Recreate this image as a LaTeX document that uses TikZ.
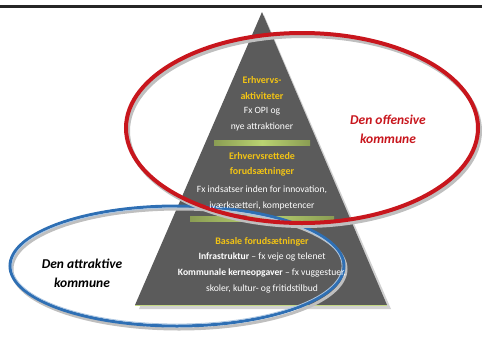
\documentclass[tikz,border=0pt]{standalone}
\usepackage{fontspec}
\setmainfont{Carlito}
\definecolor{pyr}{HTML}{5B5B5B}
\definecolor{gold}{HTML}{F2C314}
\definecolor{offred}{HTML}{C8161D}
\definecolor{attblue}{HTML}{2E6FB4}
\definecolor{barg}{HTML}{A9C84E}
\tikzset{
  head/.style={text=gold,font=\fontsize{10}{15.5}\selectfont\bfseries,align=center,inner sep=0pt},
  body/.style={text=white,font=\fontsize{9.6}{16}\selectfont,align=center,inner sep=0pt},
  lbl/.style={font=\fontsize{13.5}{19}\selectfont\bfseries\itshape,align=center,inner sep=0pt},
}
\begin{document}
\begin{tikzpicture}[x=1pt,y=-1pt]
\useasboundingbox (0,0) rectangle (482,338);
% top rule
\fill[black!85] (0,5) rectangle (482,7.5);
% pyramid shadow
\fill[black!18] (264,15) -- (391,309) -- (139,309) -- cycle;
% pyramid
\fill[pyr] (262,12) coordinate (apex) -- (387,305) coordinate (br) -- (135,305) coordinate (bl) -- cycle;
\draw[barg!70!white,line width=0.8pt] (bl) -- (br);
% green bars
\shade[left color=barg!60!pyr,right color=barg!60!pyr,middle color=barg!80!white] (214,140) rectangle (310,145);
\shade[left color=barg!60!pyr,right color=barg!60!pyr,middle color=barg!80!white] (190,216) rectangle (334,221);
% blue ellipse
\draw[black!25,line width=3pt] (179,269) ellipse [x radius=167, y radius=60];
\draw[attblue,line width=3pt] (177,266) ellipse [x radius=167, y radius=60];
\draw[attblue!40!white,line width=0.8pt] (177,266) ellipse [x radius=165, y radius=58];
% red ellipse
\draw[black!25,line width=4pt] (304,131) ellipse [x radius=176, y radius=95];
\draw[offred,line width=4pt] (302,128) ellipse [x radius=176, y radius=95];
% texts
\node[head] (t1) at (262,88) {Erhvervs-\\aktiviteter};
\node[body] (b1) at (262,119) {Fx OPI og\\nye attraktioner};
\node[head] (t2) at (262,164.5) {Erhvervsrettede\\forudsætninger};
\node[body] (b2) at (262,197.5) {Fx indsatser inden for innovation,\\iværksætteri, kompetencer};
\node[head] (t3) at (262,242) {Basale forudsætninger};
\node[body] (b3) at (262,273) {\textbf{Infrastruktur} – fx veje og telenet\\\textbf{Kommunale kerneopgaver} – fx vuggestuer,\\skoler, kultur- og fritidstilbud};
% labels
\node[lbl,text=offred] (off) at (388,129) {Den offensive\\kommune};
\node[lbl,text=black] (att) at (82,273) {Den attraktive\\kommune};
\end{tikzpicture}
\end{document}
